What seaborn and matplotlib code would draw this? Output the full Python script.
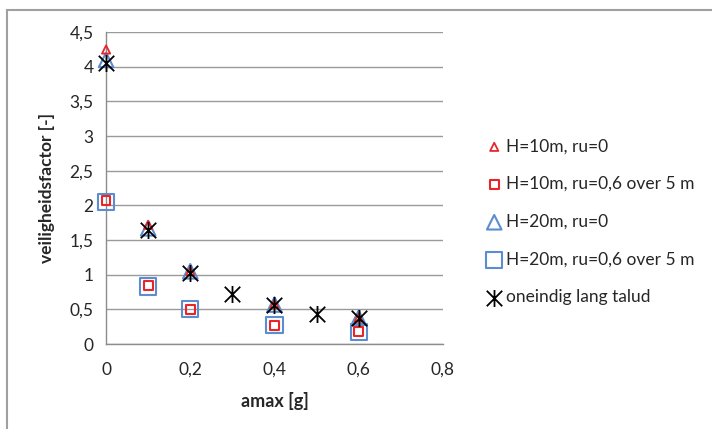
import numpy as np
import pandas as pd
import matplotlib
matplotlib.use("Agg")
import matplotlib.pyplot as plt
import seaborn as sns
from matplotlib.ticker import FuncFormatter
from matplotlib.patches import Rectangle
from matplotlib.path import Path

# Data
amax = [0.0, 0.1, 0.2, 0.4, 0.6]
h10_ru0 = [4.25, 1.72, 1.05, 0.58, 0.38]
h10_ru06 = [2.07, 0.84, 0.50, 0.27, 0.18]
h20_ru0 = [4.10, 1.67, 1.05, 0.57, 0.38]
h20_ru06 = [2.05, 0.83, 0.50, 0.27, 0.17]
amax_inf = [0.0, 0.1, 0.2, 0.3, 0.4, 0.5, 0.6]
oneindig = [4.05, 1.65, 1.03, 0.72, 0.56, 0.44, 0.37]

labels = ["H=10m, ru=0", "H=10m, ru=0,6 over 5 m", "H=20m, ru=0",
          "H=20m, ru=0,6 over 5 m", "oneindig lang talud"]

sns.set_style("white")
plt.rcParams['font.family'] = ['Lato', 'DejaVu Sans']

red = "#E8262A"
blue = "#5B8DD0"

# Excel-like star marker: an X with a vertical bar
star = Path([(-1, -1), (1, 1), (-1, 1), (1, -1), (0, -1.1), (0, 1.1)],
            [Path.MOVETO, Path.LINETO, Path.MOVETO, Path.LINETO,
             Path.MOVETO, Path.LINETO])

fig = plt.figure(figsize=(7.12, 4.29), dpi=100)
ax = fig.add_axes([0.149, 0.198, 0.473, 0.727])

# blue (H=20m) drawn first so red markers lie on top
sns.scatterplot(x=amax, y=h20_ru06, ax=ax, marker="s", s=135, facecolor="none",
                edgecolor=blue, linewidth=1.5, label=labels[3], zorder=3, clip_on=False)
sns.scatterplot(x=amax, y=h20_ru0, ax=ax, marker="^", s=110, facecolor="none",
                edgecolor=blue, linewidth=1.5, label=labels[2], zorder=3, clip_on=False)
sns.scatterplot(x=amax, y=h10_ru06, ax=ax, marker="s", s=40, facecolor="none",
                edgecolor=red, linewidth=1.5, label=labels[1], zorder=4, clip_on=False)
sns.scatterplot(x=amax, y=h10_ru0, ax=ax, marker="^", s=35, facecolor="none",
                edgecolor=red, linewidth=1.3, label=labels[0], zorder=4, clip_on=False)
sns.scatterplot(x=amax_inf, y=oneindig, ax=ax, marker=star, s=150,
                color="black", edgecolor="black", linewidth=1.3,
                label=labels[4], zorder=5, clip_on=False)

ax.set_xlim(0, 0.8)
ax.set_ylim(0, 4.5)
ax.set_xticks(np.arange(0, 0.81, 0.2))
ax.set_yticks(np.arange(0, 4.51, 0.5))
fmt = FuncFormatter(lambda v, p: f"{v:g}".replace(".", ","))
ax.xaxis.set_major_formatter(fmt)
ax.yaxis.set_major_formatter(fmt)

ax.grid(axis="y", color="#9A9A9A", linewidth=1)
ax.grid(axis="x", visible=False)
for side in ["top", "right"]:
    ax.spines[side].set_visible(False)
for side in ["left", "bottom"]:
    ax.spines[side].set_color("#8C8C8C")
    ax.spines[side].set_linewidth(1)
ax.tick_params(axis="both", which="major", direction="out", length=5,
               width=1, color="#8C8C8C", labelsize=12.5, pad=4)
ax.tick_params(axis="x", pad=8)

ax.set_xlabel("amax [g]", fontsize=13, fontweight="bold", labelpad=10)
ax.set_ylabel("veiligheidsfactor [-]", fontsize=12.5, fontweight="bold",
              va="center")
ax.yaxis.set_label_coords(-0.175, 0.5)

handles, lbls = ax.get_legend_handles_labels()
order = [lbls.index(l) for l in labels]
ax.legend([handles[i] for i in order], [lbls[i] for i in order],
          loc="center left", bbox_to_anchor=(0.66, 0.483),
          bbox_transform=fig.transFigure, frameon=False, fontsize=12.5,
          labelspacing=1.25, handletextpad=0.15, handlelength=1.0)

# outer chart border
fig.patches.append(Rectangle((7 / 712, -0.1), 1.2, 1 - 10 / 429 + 0.1,
                             transform=fig.transFigure, fill=False,
                             edgecolor="#A0A0A0", linewidth=1.5))

plt.savefig("out.png", dpi=100)
